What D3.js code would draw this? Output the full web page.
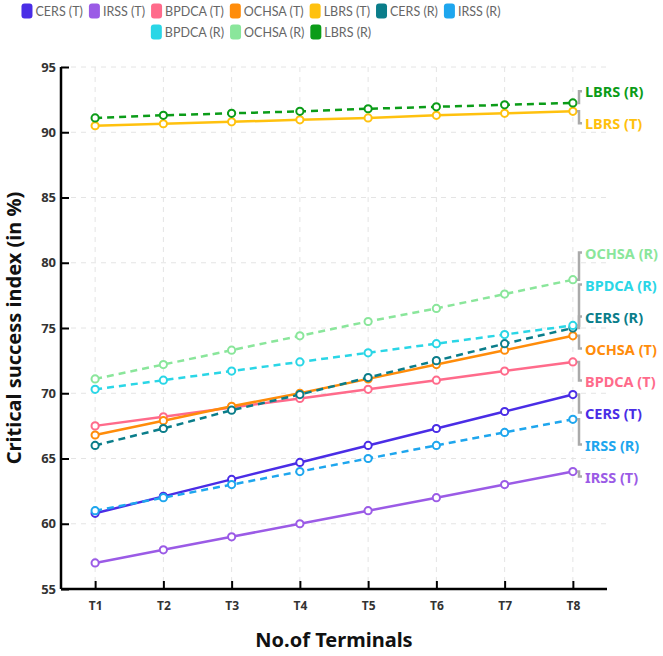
<!DOCTYPE html>
<html>
<head>
<meta charset="utf-8">
<script src="https://cdn.jsdelivr.net/npm/d3@7"></script>
<style>
  body { margin: 0; background: #fff; }
  svg { display: block; font-family: "Noto Sans", sans-serif; }
</style>
</head>
<body>
<svg id="chart" width="663" height="656"></svg>
<script>
// categories + ticks
const terminals = ["T1", "T2", "T3", "T4", "T5", "T6", "T7", "T8"];
const yTicks = [55, 60, 65, 70, 75, 80, 85, 90, 95];

// series values
const cersT  = [60.8, 62.1, 63.4, 64.7, 66.0, 67.3, 68.6, 69.9];
const irssT  = [57.0, 58.0, 59.0, 60.0, 61.0, 62.0, 63.0, 64.0];
const bpdcaT = [67.5, 68.2, 68.9, 69.6, 70.3, 71.0, 71.7, 72.4];
const ochsaT = [66.8, 67.9, 69.0, 70.0, 71.1, 72.2, 73.3, 74.4];
const lbrsT  = [90.5, 90.65, 90.8, 90.95, 91.1, 91.3, 91.45, 91.6];
const cersR  = [66.0, 67.3, 68.7, 69.9, 71.2, 72.5, 73.8, 75.0];
const irssR  = [61.0, 62.0, 63.0, 64.0, 65.0, 66.0, 67.0, 68.0];
const bpdcaR = [70.3, 71.0, 71.7, 72.4, 73.1, 73.8, 74.5, 75.2];
const ochsaR = [71.1, 72.2, 73.3, 74.4, 75.5, 76.5, 77.6, 78.7];
const lbrsR  = [91.1, 91.3, 91.45, 91.6, 91.8, 91.95, 92.1, 92.25];

const seriesNames = ["CERS (T)", "IRSS (T)", "BPDCA (T)", "OCHSA (T)", "LBRS (T)",
                     "CERS (R)", "IRSS (R)", "BPDCA (R)", "OCHSA (R)", "LBRS (R)"];
const seriesValues = [cersT, irssT, bpdcaT, ochsaT, lbrsT, cersR, irssR, bpdcaR, ochsaR, lbrsR];
const seriesColors = ["#4a2de6", "#9b5be6", "#ff6b8b", "#ff8c0a", "#ffc10e",
                      "#0a7d8a", "#1ea6ee", "#2ad6e6", "#8ae69b", "#0b9c18"];

const series = seriesNames.map((name, i) => ({
  name, values: seriesValues[i], color: seriesColors[i], dashed: name.endsWith("(R)")
}));

const svg = d3.select("#chart");

// layout
const plotLeft = 61, plotRight = 607, plotTop = 67, plotBottom = 589;

const x = d3.scalePoint().domain(terminals).range([plotLeft, plotRight]).padding(0.5);
const y = d3.scaleLinear().domain([55, 95]).range([plotBottom, plotTop]);

// grid
const grid = svg.append("g").attr("stroke", "#e4e4e4").attr("stroke-dasharray", "5,5").attr("stroke-width", 1);
grid.selectAll(".hg").data(yTicks.slice(1)).join("line")
  .attr("x1", plotLeft).attr("x2", plotRight)
  .attr("y1", d => y(d)).attr("y2", d => y(d));
grid.selectAll(".vg").data(terminals).join("line")
  .attr("x1", d => x(d)).attr("x2", d => x(d))
  .attr("y1", plotTop).attr("y2", plotBottom);

// axes
const yAxis = svg.append("g")
  .attr("transform", `translate(${plotLeft},0)`)
  .call(d3.axisLeft(y).tickValues(yTicks).tickSizeInner(-8).tickSizeOuter(0).tickPadding(5));
const xAxis = svg.append("g")
  .attr("transform", `translate(0,${plotBottom})`)
  .call(d3.axisBottom(x).tickSizeInner(-8).tickSizeOuter(0).tickPadding(12));

[yAxis, xAxis].forEach(ax => {
  ax.select(".domain").attr("stroke", "#000").attr("stroke-width", 2.5);
  ax.selectAll(".tick line").attr("stroke", "#000").attr("stroke-width", 2);
  ax.selectAll(".tick text").attr("fill", "#333").attr("font-weight", "bold")
    .attr("font-family", "Noto Sans, sans-serif");
});
yAxis.selectAll(".tick text").attr("font-size", 13);
xAxis.selectAll(".tick text").attr("font-size", 12);
// domain lines span the whole plot area
yAxis.select(".domain").attr("d", `M0,${plotBottom}V${plotTop}`);
xAxis.select(".domain").attr("d", `M${plotLeft},0H${plotRight}`);

// axis titles
svg.append("text")
  .attr("x", (plotLeft + plotRight) / 2).attr("y", 647)
  .attr("text-anchor", "middle").attr("font-size", 20).attr("font-weight", "bold").attr("fill", "#111")
  .text("No.of Terminals");
svg.append("text")
  .attr("transform", `translate(21,${(plotTop + plotBottom) / 2}) rotate(-90)`)
  .attr("text-anchor", "middle").attr("font-size", 20).attr("font-weight", "bold").attr("fill", "#111")
  .text("Critical success index (in %)");

// lines
const line = d3.line().x((d, i) => x(terminals[i])).y(d => y(d));
const lineG = svg.append("g");
series.forEach(s => {
  const g = lineG.append("g");
  g.append("path")
    .attr("d", line(s.values))
    .attr("fill", "none")
    .attr("stroke", s.color)
    .attr("stroke-width", 2.5)
    .attr("stroke-dasharray", s.dashed ? "7,5" : null);
  g.selectAll("circle").data(s.values).join("circle")
    .attr("cx", (d, i) => x(terminals[i]))
    .attr("cy", d => y(d))
    .attr("r", 3.6)
    .attr("fill", "#fff")
    .attr("stroke", s.color)
    .attr("stroke-width", 2);
});

// end labels: dodge them vertically, clusters centred on their targets
const labelGap = 32;
const ends = series.map(s => ({ s, py: y(s.values[s.values.length - 1]) }))
  .sort((a, b) => a.py - b.py);
let clusters = ends.map(e => ({ items: [e], mean: e.py }));
let merged = true;
while (merged) {
  merged = false;
  for (let i = 0; i < clusters.length - 1; i++) {
    const a = clusters[i], b = clusters[i + 1];
    const aBottom = a.mean + (a.items.length - 1) * labelGap / 2;
    const bTop = b.mean - (b.items.length - 1) * labelGap / 2;
    if (bTop - aBottom < labelGap) {
      const items = a.items.concat(b.items);
      clusters.splice(i, 2, { items, mean: d3.mean(items, d => d.py) });
      merged = true;
      break;
    }
  }
}
clusters.forEach(c => {
  const start = c.mean - (c.items.length - 1) * labelGap / 2;
  c.items.forEach((e, k) => { e.ly = start + k * labelGap; });
});

const xEnd = x(terminals[terminals.length - 1]);
const labG = svg.append("g");
ends.forEach(e => {
  labG.append("path")
    .attr("d", `M${xEnd + 4},${e.py}H579V${e.ly}H582`)
    .attr("fill", "none").attr("stroke", "#aaa").attr("stroke-width", 2.5);
});
ends.forEach(e => {
  labG.append("text")
    .attr("x", 585).attr("y", e.ly + 1).attr("dy", "0.35em")
    .attr("font-size", 14.5).attr("font-weight", "bold")
    .attr("fill", e.s.color)
    .text(e.s.name);
});

// legend: two rows centred
const legendRows = [series.slice(0, 7), series.slice(7)];
const legendCenter = 261;
legendRows.forEach((row, r) => {
  const g = svg.append("g");
  let cx = 0;
  row.forEach(s => {
    const item = g.append("g").attr("transform", `translate(${cx},0)`);
    item.append("rect").attr("x", 0).attr("y", -7.5).attr("width", 11).attr("height", 15)
      .attr("rx", 3).attr("fill", s.color);
    const t = item.append("text").attr("x", 14).attr("dy", "0.36em")
      .attr("font-size", 12.5).attr("fill", "#666")
      .attr("font-family", "Lato, sans-serif")
      .text(s.name);
    cx += 14 + t.node().getComputedTextLength() + 6;
  });
  const w = cx - 6;
  g.attr("transform", `translate(${legendCenter - w / 2},${11 + r * 21})`);
});
</script>
</body>
</html>
